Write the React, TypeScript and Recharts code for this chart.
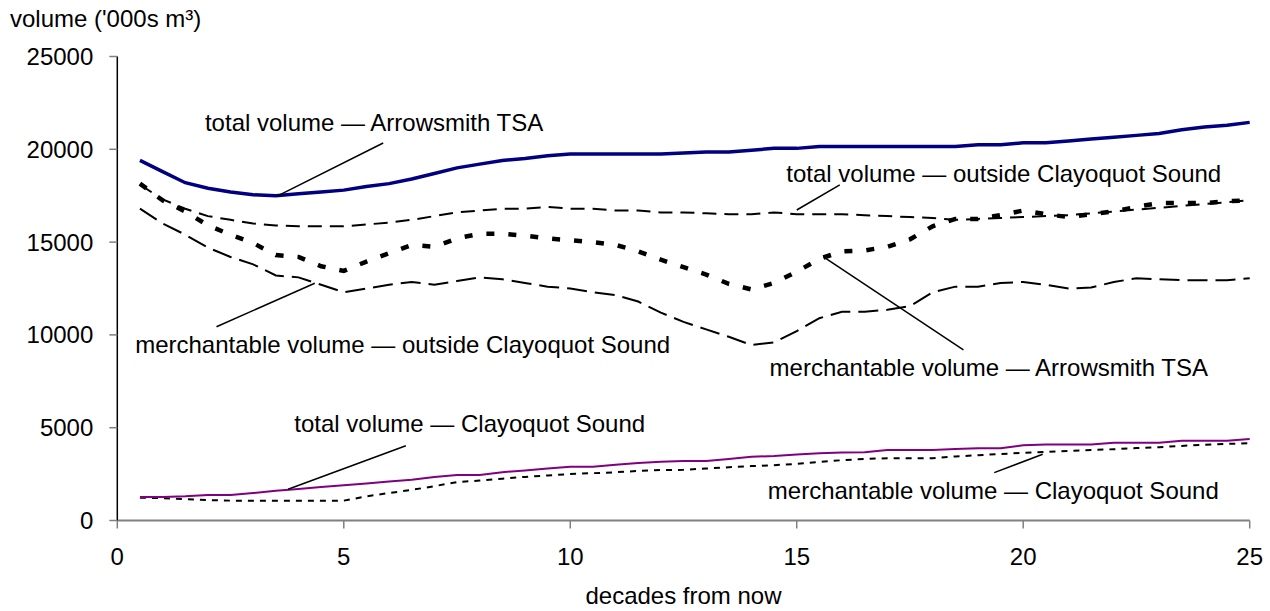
import React from 'react';
import { LineChart, Line, XAxis, YAxis, ReferenceLine, ReferenceDot } from 'recharts';

const FONT = '"Liberation Sans", Arial, sans-serif';

const DECADES = [
    0.5, 1, 1.5, 2, 2.5, 3, 3.5, 4, 4.5, 5,
    5.5, 6, 6.5, 7, 7.5, 8, 8.5, 9, 9.5, 10,
    10.5, 11, 11.5, 12, 12.5, 13, 13.5, 14, 14.5, 15,
    15.5, 16, 16.5, 17, 17.5, 18, 18.5, 19, 19.5, 20,
    20.5, 21, 21.5, 22, 22.5, 23, 23.5, 24, 24.5, 25,
];

const TOTAL_ARROWSMITH = [
    19400, 18800, 18200, 17900, 17700, 17550, 17500, 17600, 17700, 17800,
    18000, 18150, 18400, 18700, 19000, 19200, 19400, 19500, 19650, 19750,
    19750, 19750, 19750, 19750, 19800, 19850, 19850, 19950, 20050, 20050,
    20150, 20150, 20150, 20150, 20150, 20150, 20150, 20250, 20250, 20350,
    20350, 20450, 20550, 20650, 20750, 20850, 21050, 21200, 21300, 21450,
];

const TOTAL_OUTSIDE = [
    18100, 17300, 16800, 16400, 16200, 16000, 15900, 15850, 15850, 15850,
    15950, 16050, 16200, 16400, 16600, 16700, 16800, 16800, 16900, 16800,
    16800, 16700, 16700, 16600, 16600, 16550, 16500, 16500, 16600, 16500,
    16500, 16500, 16450, 16400, 16350, 16300, 16200, 16250, 16300, 16350,
    16400, 16450, 16550, 16650, 16750, 16850, 16950, 17050, 17150, 17250,
];

const MERCH_ARROWSMITH = [
    18150, 17250, 16650, 15900, 15400, 14950, 14300, 14200, 13700, 13450,
    13950, 14400, 14850, 14750, 15200, 15450, 15450, 15350, 15200, 15100,
    15000, 14850, 14500, 14050, 13650, 13250, 12750, 12450, 12800, 13400,
    14100, 14500, 14550, 14750, 15150, 15850, 16250, 16250, 16450, 16700,
    16500, 16350, 16500, 16650, 16900, 17100, 17100, 17100, 17200, 17250,
];

const MERCH_OUTSIDE = [
    16800, 16000, 15400, 14700, 14200, 13800, 13200, 13100, 12700, 12300,
    12500, 12700, 12850, 12700, 12900, 13100, 13000, 12800, 12600, 12500,
    12300, 12150, 11800, 11200, 10700, 10300, 9900, 9450, 9600, 10200,
    10900, 11250, 11250, 11350, 11550, 12300, 12600, 12600, 12800, 12850,
    12700, 12500, 12550, 12850, 13050, 13000, 12950, 12950, 12950, 13050,
];

const TOTAL_CLAYOQUOT = [
    1270, 1270, 1300, 1370, 1370, 1480, 1600, 1700, 1800, 1900,
    2000, 2100, 2200, 2350, 2450, 2450, 2600, 2700, 2800, 2900,
    2900, 3000, 3100, 3170, 3200, 3200, 3320, 3440, 3470, 3550,
    3620, 3670, 3680, 3800, 3800, 3800, 3850, 3890, 3890, 4050,
    4100, 4100, 4100, 4190, 4190, 4190, 4300, 4300, 4300, 4390,
];

const MERCH_CLAYOQUOT = [
    1230, 1200, 1150, 1100, 1070, 1070, 1070, 1070, 1070, 1070,
    1300, 1480, 1650, 1850, 2070, 2150, 2250, 2350, 2430, 2500,
    2550, 2600, 2670, 2720, 2730, 2800, 2870, 2930, 2980, 3050,
    3150, 3250, 3320, 3350, 3350, 3350, 3450, 3520, 3580, 3650,
    3700, 3750, 3800, 3840, 3900, 3950, 4020, 4080, 4130, 4160,
];

const X_TICKS = [0, 5, 10, 15, 20, 25];
const Y_TICKS = [0, 5000, 10000, 15000, 20000, 25000];

// series labels with their leader lines (data coordinates)
const NOTES = [
    { text: 'total volume — Arrowsmith TSA', at: [5.67, 21470], from: [5.87, 20340], to: [3.53, 17480] },
    { text: 'total volume — outside Clayoquot Sound', at: [19.57, 18720], from: [15.95, 18080], to: [15.0, 16730] },
    { text: 'merchantable volume — outside Clayoquot Sound', at: [6.3, 9460], from: [2.19, 10440], to: [4.36, 12780] },
    { text: 'merchantable volume — Arrowsmith TSA', at: [19.24, 8270], from: [15.59, 14210], to: [18.68, 9190] },
    { text: 'total volume — Clayoquot Sound', at: [7.78, 5240], from: [6.37, 4030], to: [3.77, 1680] },
    { text: 'merchantable volume — Clayoquot Sound', at: [19.34, 1610], from: [20.43, 3570], to: [19.36, 2580] },
];

const rows = DECADES.map((d, i) => ({
    decade: d,
    totalArrowsmith: TOTAL_ARROWSMITH[i],
    totalOutside: TOTAL_OUTSIDE[i],
    merchArrowsmith: MERCH_ARROWSMITH[i],
    merchOutside: MERCH_OUTSIDE[i],
    totalClayoquot: TOTAL_CLAYOQUOT[i],
    merchClayoquot: MERCH_CLAYOQUOT[i],
}));

const tickStyle = { fill: '#000', fontSize: 24, fontFamily: FONT };

export default function App() {
    return (
        <div style={{ position: 'absolute', left: 0, top: 0, width: 1270, height: 611, background: '#fff', fontFamily: FONT }}>
            <div style={{ position: 'absolute', left: 10, top: 5, fontSize: 24, color: '#000', whiteSpace: 'nowrap' }}>
                volume ('000s m³)
            </div>
            <LineChart width={1270} height={611} data={rows}
                margin={{ top: 56.5, right: 20.3, bottom: 30.5, left: 17.3 }}>
                <XAxis type="number" dataKey="decade" domain={[0, 25]} ticks={X_TICKS} height={60}
                    tick={tickStyle} tickSize={8} tickMargin={19}
                    axisLine={{ stroke: '#808080', strokeWidth: 2 }} tickLine={{ stroke: '#808080', strokeWidth: 1.5 }}
                    label={{ value: 'decades from now', position: 'bottom', offset: 6, fill: '#000', fontSize: 24, fontFamily: FONT }} />
                <YAxis type="number" domain={[0, 25000]} ticks={Y_TICKS} width={100}
                    tick={tickStyle} tickSize={8} tickMargin={16}
                    axisLine={{ stroke: '#000', strokeWidth: 1.5 }} tickLine={{ stroke: '#808080', strokeWidth: 1.5 }} />

                <Line dataKey="merchOutside" stroke="#000" strokeWidth={2} strokeDasharray="20 8" dot={false} isAnimationActive={false} />
                <Line dataKey="totalOutside" stroke="#000" strokeWidth={2} strokeDasharray="14 8" dot={false} isAnimationActive={false} />
                <Line dataKey="merchArrowsmith" stroke="#000" strokeWidth={4.5} strokeDasharray="8 14" dot={false} isAnimationActive={false} />
                <Line dataKey="totalArrowsmith" stroke="#000080" strokeWidth={3.5} dot={false} isAnimationActive={false} />
                <Line dataKey="merchClayoquot" stroke="#000" strokeWidth={2} strokeDasharray="6 6" dot={false} isAnimationActive={false} />
                <Line dataKey="totalClayoquot" stroke="#800080" strokeWidth={2} dot={false} isAnimationActive={false} />

                {NOTES.map((n, i) => (
                    <ReferenceLine key={'l' + i} segment={[{ x: n.from[0], y: n.from[1] }, { x: n.to[0], y: n.to[1] }]}
                        stroke="#000" strokeWidth={1.5} />
                ))}
                {NOTES.map((n, i) => (
                    <ReferenceDot key={'t' + i} x={n.at[0]} y={n.at[1]} r={1} fill="none" stroke="none"
                        label={{ value: n.text, position: 'center', fill: '#000', fontSize: 24, fontFamily: FONT }} />
                ))}
            </LineChart>
        </div>
    );
}
